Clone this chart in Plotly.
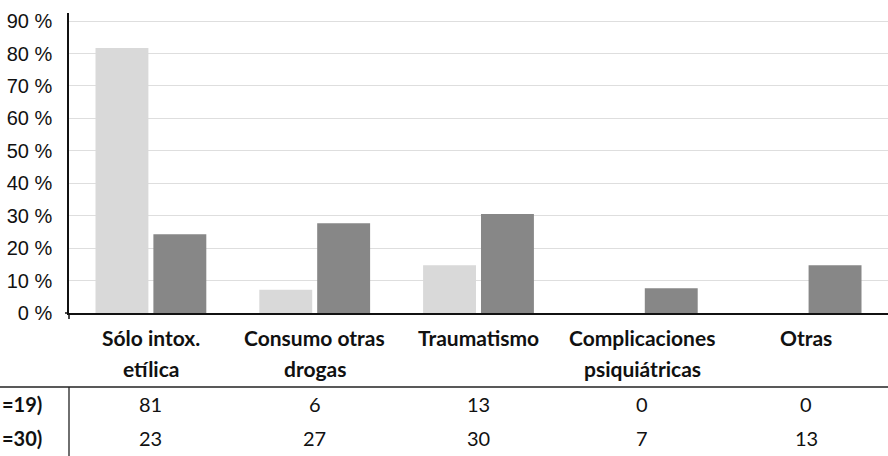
import plotly.graph_objects as go

categories = ["Sólo intox. etílica", "Consumo otras drogas", "Traumatismo",
              "Complicaciones psiquiátricas", "Otras"]
label_lines = [["Sólo intox.", "etílica"], ["Consumo otras", "drogas"], ["Traumatismo"],
               ["Complicaciones", "psiquiátricas"], ["Otras"]]
series_a = [81.7, 7.2, 14.7, 0, 0]
series_b = [24.3, 27.7, 30.5, 7.6, 14.7]
table_row_labels = ["=19)", "=30)"]
table_a = ["81", "6", "13", "0", "0"]
table_b = ["23", "27", "30", "7", "13"]
y_ticks = [0, 10, 20, 30, 40, 50, 60, 70, 80, 90]
y_tick_text = [f"{v} %" for v in y_ticks]

W, H = 888, 456
L, T, PH = 69, 13, 300
PW = W - L

def py(y):
    return (T + PH - y) / PH

def px(x):
    return (x - L) / PW

fig = go.Figure()
fig.add_trace(go.Bar(x=categories, y=series_a, marker_color="#d9d9d9", marker_line_width=0,
                     showlegend=False))
fig.add_trace(go.Bar(x=categories, y=series_b, marker_color="#878787", marker_line_width=0,
                     showlegend=False))

ann = []
for i, c in enumerate(categories):
    for j, line in enumerate(label_lines[i]):
        ann.append(dict(x=c, y=py(337 + 31 * j), xref="x", yref="paper", text="<b>" + line + "</b>",
                        showarrow=False, font=dict(family="Lato", size=21, color="#111"),
                        yanchor="middle"))
    ann.append(dict(x=c, y=py(404), xref="x", yref="paper", text=table_a[i],
                    showarrow=False, font=dict(family="Lato", size=20, color="#111"),
                    yanchor="middle"))
    ann.append(dict(x=c, y=py(438), xref="x", yref="paper", text=table_b[i],
                    showarrow=False, font=dict(family="Lato", size=20, color="#111"),
                    yanchor="middle"))
for lab, yy in zip(table_row_labels, [404, 438]):
    ann.append(dict(x=px(44), y=py(yy), xref="paper", yref="paper", text="<b>" + lab + "</b>",
                    xanchor="right", yanchor="middle", showarrow=False,
                    font=dict(family="Lato", size=20, color="#111")))

shapes = [
    dict(type="line", xref="paper", yref="paper", x0=px(0), x1=1, y0=py(387), y1=py(387),
         line=dict(color="#222", width=1.3)),
    dict(type="line", xref="paper", yref="paper", x0=0, x1=0, y0=py(387), y1=py(456),
         line=dict(color="#222", width=1.3)),
    dict(type="line", xref="paper", yref="paper", x0=0, x1=0, y0=py(313), y1=py(319),
         line=dict(color="#111", width=1.5)),
    dict(type="line", xref="paper", yref="paper", x0=px(65), x1=0, y0=0, y1=0,
         line=dict(color="#111", width=1.5)),
]

fig.update_layout(
    width=W, height=H,
    margin=dict(l=L, r=0, t=T, b=H - T - PH, autoexpand=False),
    paper_bgcolor="white", plot_bgcolor="white",
    barmode="group", bargap=0.293, bargroupgap=0.086,
    xaxis=dict(showticklabels=False, showline=True, linecolor="#111", linewidth=1.5,
               ticks="", showgrid=False, zeroline=False),
    yaxis=dict(range=[0, 92.5], tickvals=y_ticks, ticktext=y_tick_text,
               showline=True, linecolor="#111", linewidth=1.5,
               showgrid=True, gridcolor="#dedede", gridwidth=1, zeroline=False,
               ticks="", ticklabelstandoff=11,
               tickfont=dict(family="Liberation Sans", size=20, color="#111")),
    annotations=ann, shapes=shapes,
)
fig.write_html("out.html", config={"displayModeBar": False},
               post_script="document.body.style.margin='0';")
